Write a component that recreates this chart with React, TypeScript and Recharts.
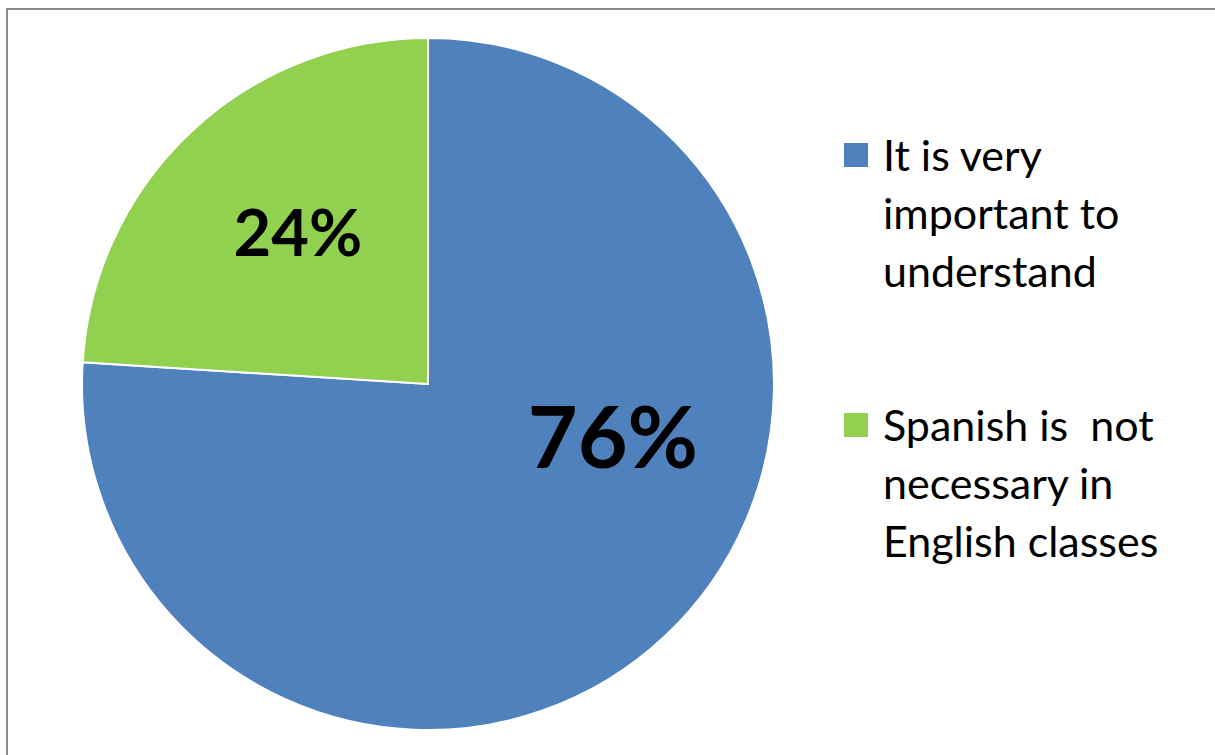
import { Cell, Legend, Pie, PieChart } from 'recharts';

const categories = ['It is very important to understand', 'Spanish is  not necessary in English classes'];
const shares = [76, 24];
const sliceColors = ['#4F81BD', '#92D050'];

const data = categories.map((name, i) => ({ name, value: shares[i] }));

// Excel placed the labels by hand, so nudge them off the mid angle
const labelAngles = [-15.2, 130.4];
const labelRadius = [0.554, 0.58];
const labelSizes = [86, 65];
const RAD = Math.PI / 180;

function SliceLabel(props: any) {
  const { cx, cy, outerRadius, index, value } = props;
  const r = outerRadius * labelRadius[index];
  const a = labelAngles[index];
  const x = cx + r * Math.cos(a * RAD);
  const y = cy - r * Math.sin(a * RAD);
  return (
    <text
      x={x}
      y={y}
      textAnchor="middle"
      dominantBaseline="central"
      fill="#000"
      fontFamily="Lato"
      fontWeight={700}
      fontSize={labelSizes[index]}
    >
      {value}%
    </text>
  );
}

function LegendList({ payload }: any) {
  return (
    <div style={{ fontFamily: 'Lato', fontSize: 43, lineHeight: '58px', color: '#000' }}>
      {(payload ?? []).map((p: any, i: number) => (
        <div key={i} style={{ display: 'flex', alignItems: 'flex-start', marginBottom: i === 0 ? 96 : 0 }}>
          <div style={{ width: 24, height: 24, background: p.color, marginTop: 17, marginRight: 15, flexShrink: 0 }} />
          <div style={{ width: 310, whiteSpace: 'pre-wrap' }}>{p.value}</div>
        </div>
      ))}
    </div>
  );
}

export default function App() {
  return (
    <div style={{ position: 'absolute', left: 0, top: 0, width: 1215, height: 755, overflow: 'hidden', background: '#fff' }}>
      <div
        style={{
          position: 'absolute',
          left: 6,
          top: 8,
          width: 1215,
          height: 755,
          border: '2px solid #8a8a8a',
        }}
      />
      <div style={{ position: 'absolute', left: 0, top: 0 }}>
        <PieChart width={1215} height={755} margin={{ top: 0, right: 0, bottom: 0, left: 0 }}>
          <Pie
            data={data}
            dataKey="value"
            nameKey="name"
            cx={428}
            cy={384}
            outerRadius={346}
            startAngle={90}
            endAngle={-270}
            stroke="#fff"
            strokeWidth={2}
            label={SliceLabel}
            labelLine={false}
            isAnimationActive={false}
          >
            {data.map((d, i) => (
              <Cell key={d.name} fill={sliceColors[i]} />
            ))}
          </Pie>
          <Legend
            layout="vertical"
            content={<LegendList />}
            wrapperStyle={{ position: 'absolute', left: 844, top: 126, width: 360 }}
          />
        </PieChart>
      </div>
    </div>
  );
}
